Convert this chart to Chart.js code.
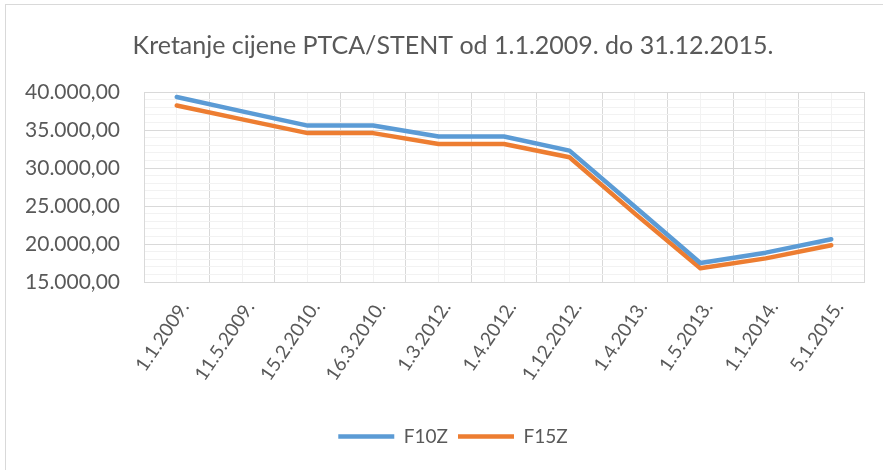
<!DOCTYPE html>
<html>
<head>
<meta charset="utf-8">
<script src="https://cdn.jsdelivr.net/npm/chart.js@4.4.1/dist/chart.umd.min.js"></script>
<style>
html, body { margin: 0; padding: 0; overflow: hidden; background: #fff; }
#wrap { width: 906px; height: 470px; }
</style>
</head>
<body>
<div id="wrap"><canvas id="myChart" width="906" height="470"></canvas></div>
<script>
const labels = ['1.1.2009.', '11.5.2009.', '15.2.2010.', '16.3.2010.', '1.3.2012.', '1.4.2012.',
	'1.12.2012.', '1.4.2013.', '1.5.2013.', '1.1.2014.', '5.1.2015.'];
const f10z = [39350, 37450, 35580, 35580, 34150, 34150, 32290, 24900, 17500, 18860, 20620];
const f15z = [38230, 36400, 34590, 34590, 33160, 33160, 31420, 24000, 16800, 18110, 19840];
const yMin = 15000;
const yMax = 40000;

const FONT = 'Lato, "Open Sans", sans-serif';
const GREY = '#595959';

// 40000 -> "40.000,00"
function formatHr(v) {
	const s = Math.round(v).toString().replace(/\B(?=(\d{3})+(?!\d))/g, '.');
	return s + ',00';
}

// outer chart frame (only left/top edges are inside the picture)
const frame = {
	id: 'frame',
	beforeDraw(chart) {
		const ctx = chart.ctx;
		ctx.save();
		ctx.fillStyle = '#fff';
		ctx.fillRect(0, 0, chart.width, chart.height);
		ctx.strokeStyle = '#d9d9d9';
		ctx.lineWidth = 1;
		ctx.strokeRect(5.5, 4.5, 910, 480);
		ctx.restore();
	}
};

const myChart = new Chart(document.getElementById('myChart').getContext('2d'), {
	type: 'line',
	data: {
		labels: labels,
		datasets: [{
			label: 'F10Z',
			data: f10z,
			borderColor: '#5B9BD5',
			backgroundColor: '#5B9BD5',
			borderWidth: 4.5,
			borderCapStyle: 'round',
			borderJoinStyle: 'round',
			pointRadius: 0,
			tension: 0,
			fill: false
		}, {
			label: 'F15Z',
			data: f15z,
			borderColor: '#ED7D31',
			backgroundColor: '#ED7D31',
			borderWidth: 4.5,
			borderCapStyle: 'round',
			borderJoinStyle: 'round',
			pointRadius: 0,
			tension: 0,
			fill: false
		}]
	},
	options: {
		responsive: false,
		animation: false,
		layout: { padding: { left: 0, right: 0, top: 0, bottom: 14 } },
		plugins: {
			title: {
				display: true,
				text: 'Kretanje cijene PTCA/STENT od 1.1.2009. do 31.12.2015.',
				color: GREY,
				font: { family: FONT, size: 25, weight: 'normal' },
				padding: { top: 31, bottom: 31 }
			},
			legend: {
				position: 'bottom',
				labels: {
					usePointStyle: true,
					pointStyle: 'line',
					pointStyleWidth: 56,
					boxHeight: 19,
					padding: 10,
					color: GREY,
					font: { family: FONT, size: 19 }
				}
			},
			tooltip: { enabled: false }
		},
		scales: {
			x: {
				type: 'category',
				offset: true,
				grid: { offset: true, color: '#d9d9d9', drawTicks: false },
				border: { color: '#d9d9d9' },
				ticks: {
					color: GREY,
					font: { family: FONT, size: 19 },
					minRotation: 56,
					maxRotation: 56,
					autoSkip: false,
					labelOffset: 8,
					padding: 15
				},
				afterFit(scale) { scale.height = 135; }
			},
			x2: {
				type: 'category',
				labels: labels,
				offset: true,
				position: 'bottom',
				z: -1,
				grid: { offset: false, color: '#f2f2f2', drawTicks: false },
				border: { display: false },
				ticks: { display: false },
				afterFit(scale) { scale.height = 0; }
			},
			y: {
				min: yMin,
				max: yMax,
				grid: {
					drawTicks: false,
					color: (c) => (c.tick && c.tick.value % 5000 === 0) ? '#d9d9d9' : '#f2f2f2'
				},
				border: { color: '#d9d9d9' },
				ticks: {
					stepSize: 1000,
					autoSkip: false,
					padding: 24,
					color: GREY,
					font: { family: FONT, size: 21 },
					callback: (v) => v % 5000 === 0 ? formatHr(v) : ''
				},
				afterFit(scale) { scale.width = 144; }
			},
			// empty right-hand box, keeps the plot edge at the same spot as the reference
			yRight: {
				type: 'linear',
				position: 'right',
				grid: { display: false, drawTicks: false },
				border: { display: false },
				ticks: { display: false },
				afterFit(scale) { scale.width = 42; }
			}
		}
	},
	plugins: [frame]
});
</script>
</body>
</html>
